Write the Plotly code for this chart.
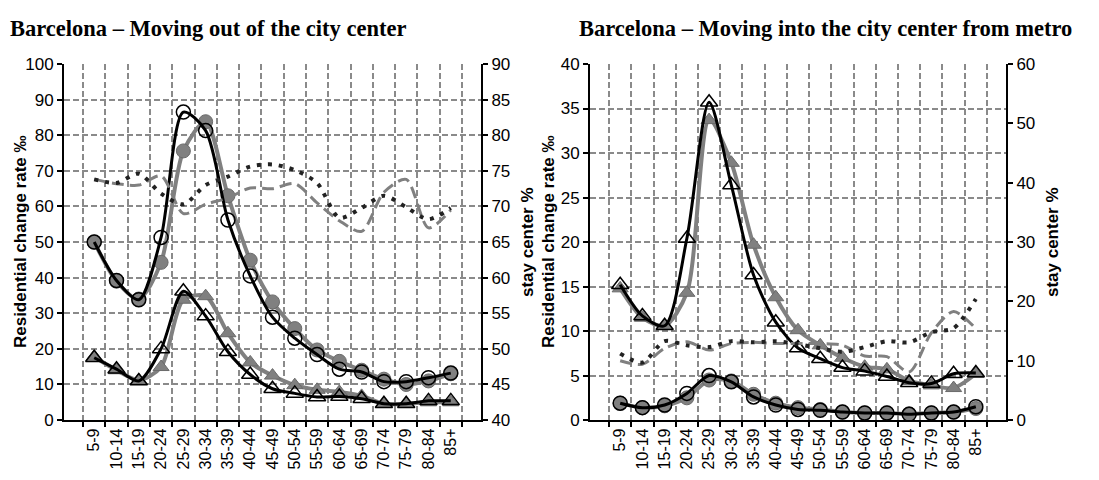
import plotly.graph_objects as go

ages = ["5-9", "10-14", "15-19", "20-24", "25-29", "30-34", "35-39", "40-44", "45-49",
        "50-54", "55-59", "60-64", "65-69", "70-74", "75-79", "80-84", "85+"]

# Left chart: Moving out of the city center (residential change rate, left axis)
out_black_circle = [50, 39.2, 33.8, 51.3, 86.5, 81.3, 56.2, 40.5, 28.9, 23, 18.4, 14.3, 13.5, 10.8, 10.8, 11.9, 13.2]
out_gray_circle = [50, 39, 34, 44.3, 75.6, 83.8, 63, 44.9, 33.2, 25.7, 19.7, 16.5, 14, 11.5, 10, 11, 13]
out_black_tri = [17.5, 14.3, 11, 20, 36.2, 29.2, 19.2, 12.8, 8.8, 7.5, 6.5, 6.6, 6, 4.6, 4.6, 5.4, 5.4]
out_gray_tri = [17.8, 14, 11.2, 14.9, 33.8, 34.8, 24.4, 16.2, 12.5, 9.8, 8.5, 7.9, 6.8, 4.6, 4.6, 5, 5]
# Left chart: stay center % (right axis)
out_stay_dot = [73.8, 73.3, 74.6, 71.8, 70.3, 73.0, 74.2, 75.6, 75.9, 75.1, 73.3, 68.4, 69.8, 71.5, 69.9, 68.2, 69.8]
out_stay_dash = [73.8, 73.2, 73.0, 74.3, 69.0, 70.3, 71.2, 72.6, 72.5, 73.2, 70.5, 68.0, 66.5, 72.0, 73.8, 67.0, 69.5]

# Right chart: Moving into the city center from metro
in_black_tri = [15.2, 11.7, 10.6, 20.4, 35.7, 26.4, 16.3, 11.0, 8.1, 6.9, 5.9, 5.5, 4.9, 4.2, 4.1, 5.2, 5.3]
in_gray_tri = [14.8, 11.5, 10.6, 14.3, 33.7, 28.9, 19.7, 13.8, 10.1, 8.4, 7.0, 6.0, 5.7, 4.4, 3.9, 3.6, 5.2]
in_black_circle = [1.9, 1.4, 1.7, 3.0, 5.0, 4.3, 2.6, 1.7, 1.2, 1.1, 0.9, 0.8, 0.8, 0.65, 0.8, 0.9, 1.5]
in_gray_circle = [1.9, 1.4, 1.6, 2.5, 4.5, 4.4, 2.9, 1.9, 1.4, 1.2, 0.9, 0.8, 0.8, 0.7, 0.8, 0.9, 1.3]
in_stay_dot = [11.2, 9.7, 13.3, 12.6, 12.3, 13.3, 13.1, 13.3, 12.8, 12.1, 11.5, 12.3, 13.3, 13.1, 14.8, 15.5, 20.4]
in_stay_dash = [10.0, 9.4, 12.1, 13.2, 11.8, 12.9, 13.1, 12.9, 12.9, 12.9, 12.6, 10.8, 10.7, 8.1, 14.7, 18.3, 15.4]

titles = ["Barcelona – Moving out of the city center",
          "Barcelona – Moving into the city center from metro"]
y_title = "Residential change rate ‰"
y2_title = "stay center %"

BLACK = "#000000"
GRAY = "#808080"
GRID = "#8a8a8a"

# the page body has an 8px margin: figure is sized/positioned to compensate
OFF = 8
W, H = 1099 - OFF, 480 - OFF


def px_x(p):
    return (p - OFF) / W


def px_y(p):
    return 1 - (p - OFF) / H


fig = go.Figure()


def add_panel(xa, ya, ya2, gray_circ, black_circ, gray_tri, black_tri, dot, dash):
    common = dict(x=ages, xaxis=xa, showlegend=False, line_shape="spline")
    fig.add_trace(go.Scatter(y=dash, yaxis=ya2, mode="lines",
                             line=dict(color=GRAY, width=3, dash="12px,6px", smoothing=0.8),
                             **common))
    fig.add_trace(go.Scatter(y=dot, yaxis=ya2, mode="lines",
                             line=dict(color="#222222", width=4, dash="4px,7px", smoothing=0.8),
                             **common))
    fig.add_trace(go.Scatter(y=gray_tri, yaxis=ya, mode="lines+markers",
                             line=dict(color=GRAY, width=4, smoothing=0.8),
                             marker=dict(symbol="triangle-up", size=14, color=GRAY,
                                         line=dict(color="#6a6a6a", width=1)),
                             **common))
    fig.add_trace(go.Scatter(y=gray_circ, yaxis=ya, mode="lines+markers",
                             line=dict(color=GRAY, width=4, smoothing=0.8),
                             marker=dict(symbol="circle", size=14, color=GRAY,
                                         line=dict(color="#6a6a6a", width=1)),
                             **common))
    fig.add_trace(go.Scatter(y=black_tri, yaxis=ya, mode="lines+markers",
                             line=dict(color=BLACK, width=3, smoothing=0.8),
                             marker=dict(symbol="triangle-up-open", size=15, color=BLACK,
                                         line=dict(color=BLACK, width=1.5)),
                             **common))
    fig.add_trace(go.Scatter(y=black_circ, yaxis=ya, mode="lines+markers",
                             line=dict(color=BLACK, width=3, smoothing=0.8),
                             marker=dict(symbol="circle-open", size=14, color=BLACK,
                                         line=dict(color=BLACK, width=1.5)),
                             **common))


add_panel("x", "y", "y2", out_gray_circle, out_black_circle, out_gray_tri, out_black_tri,
          out_stay_dot, out_stay_dash)
add_panel("x2", "y3", "y4", in_gray_circle, in_black_circle, in_gray_tri, in_black_tri,
          in_stay_dot, in_stay_dash)

xtickfont = dict(family="Liberation Sans, Arial", size=16, color="#000")
ytickfont = dict(family="Liberation Sans, Arial", size=17, color="#000")
dom_l = [px_x(64), px_x(481)]
dom_r = [px_x(590), px_x(1006)]
ydom = [px_y(428), px_y(57)]

xcommon = dict(type="category", tickson="boundaries", ticks="outside", ticklen=5,
               tickcolor=BLACK, tickwidth=1.5, showline=True, linecolor=BLACK, linewidth=2,
               showgrid=True, gridcolor=GRID, griddash="6px,3px", gridwidth=1.5,
               tickangle=-90, tickfont=xtickfont, zeroline=False, fixedrange=True)
ycommon = dict(ticks="outside", ticklen=5, tickcolor=BLACK, tickwidth=1.5, showline=True,
               linecolor=BLACK, linewidth=2, gridcolor=GRID, griddash="6px,3px", gridwidth=1.5,
               tickfont=ytickfont, zeroline=False, domain=ydom)

fig.update_layout(
    width=W, height=H,
    margin=dict(l=0, r=0, t=0, b=0),
    paper_bgcolor="white", plot_bgcolor="white",
    xaxis=dict(domain=dom_l, anchor="y", **xcommon),
    xaxis2=dict(domain=dom_r, anchor="y3", **xcommon),
    yaxis=dict(anchor="x", range=[0, 100], dtick=10, showgrid=True, **ycommon),
    yaxis2=dict(anchor="x", overlaying="y", side="right", range=[40, 90], dtick=5,
                showgrid=False, **ycommon),
    yaxis3=dict(anchor="x2", range=[0, 40], dtick=5, showgrid=True, **ycommon),
    yaxis4=dict(anchor="x2", overlaying="y3", side="right", range=[0, 60], dtick=10,
                showgrid=False, **ycommon),
)

title_font = dict(family="Liberation Serif, Times New Roman", size=22.5, color="#000")
axis_title_font = dict(family="Liberation Sans, Arial", size=17, color="#000")

fig.add_annotation(text="<b>" + titles[0] + "</b>", x=px_x(8), y=px_y(20), xref="paper",
                   yref="paper", xanchor="left", yanchor="middle", showarrow=False, font=title_font)
fig.add_annotation(text="<b>" + titles[1] + "</b>", x=px_x(577), y=px_y(20), xref="paper",
                   yref="paper", xanchor="left", yanchor="middle", showarrow=False, font=title_font)

for xpix, txt in [(20, y_title), (527, y2_title), (548, y_title), (1052, y2_title)]:
    fig.add_annotation(text="<b>" + txt + "</b>", x=px_x(xpix), y=(ydom[0] + ydom[1]) / 2,
                       xref="paper", yref="paper", xanchor="center", yanchor="middle",
                       textangle=-90, showarrow=False, font=axis_title_font)

fig.write_html("out.html")
